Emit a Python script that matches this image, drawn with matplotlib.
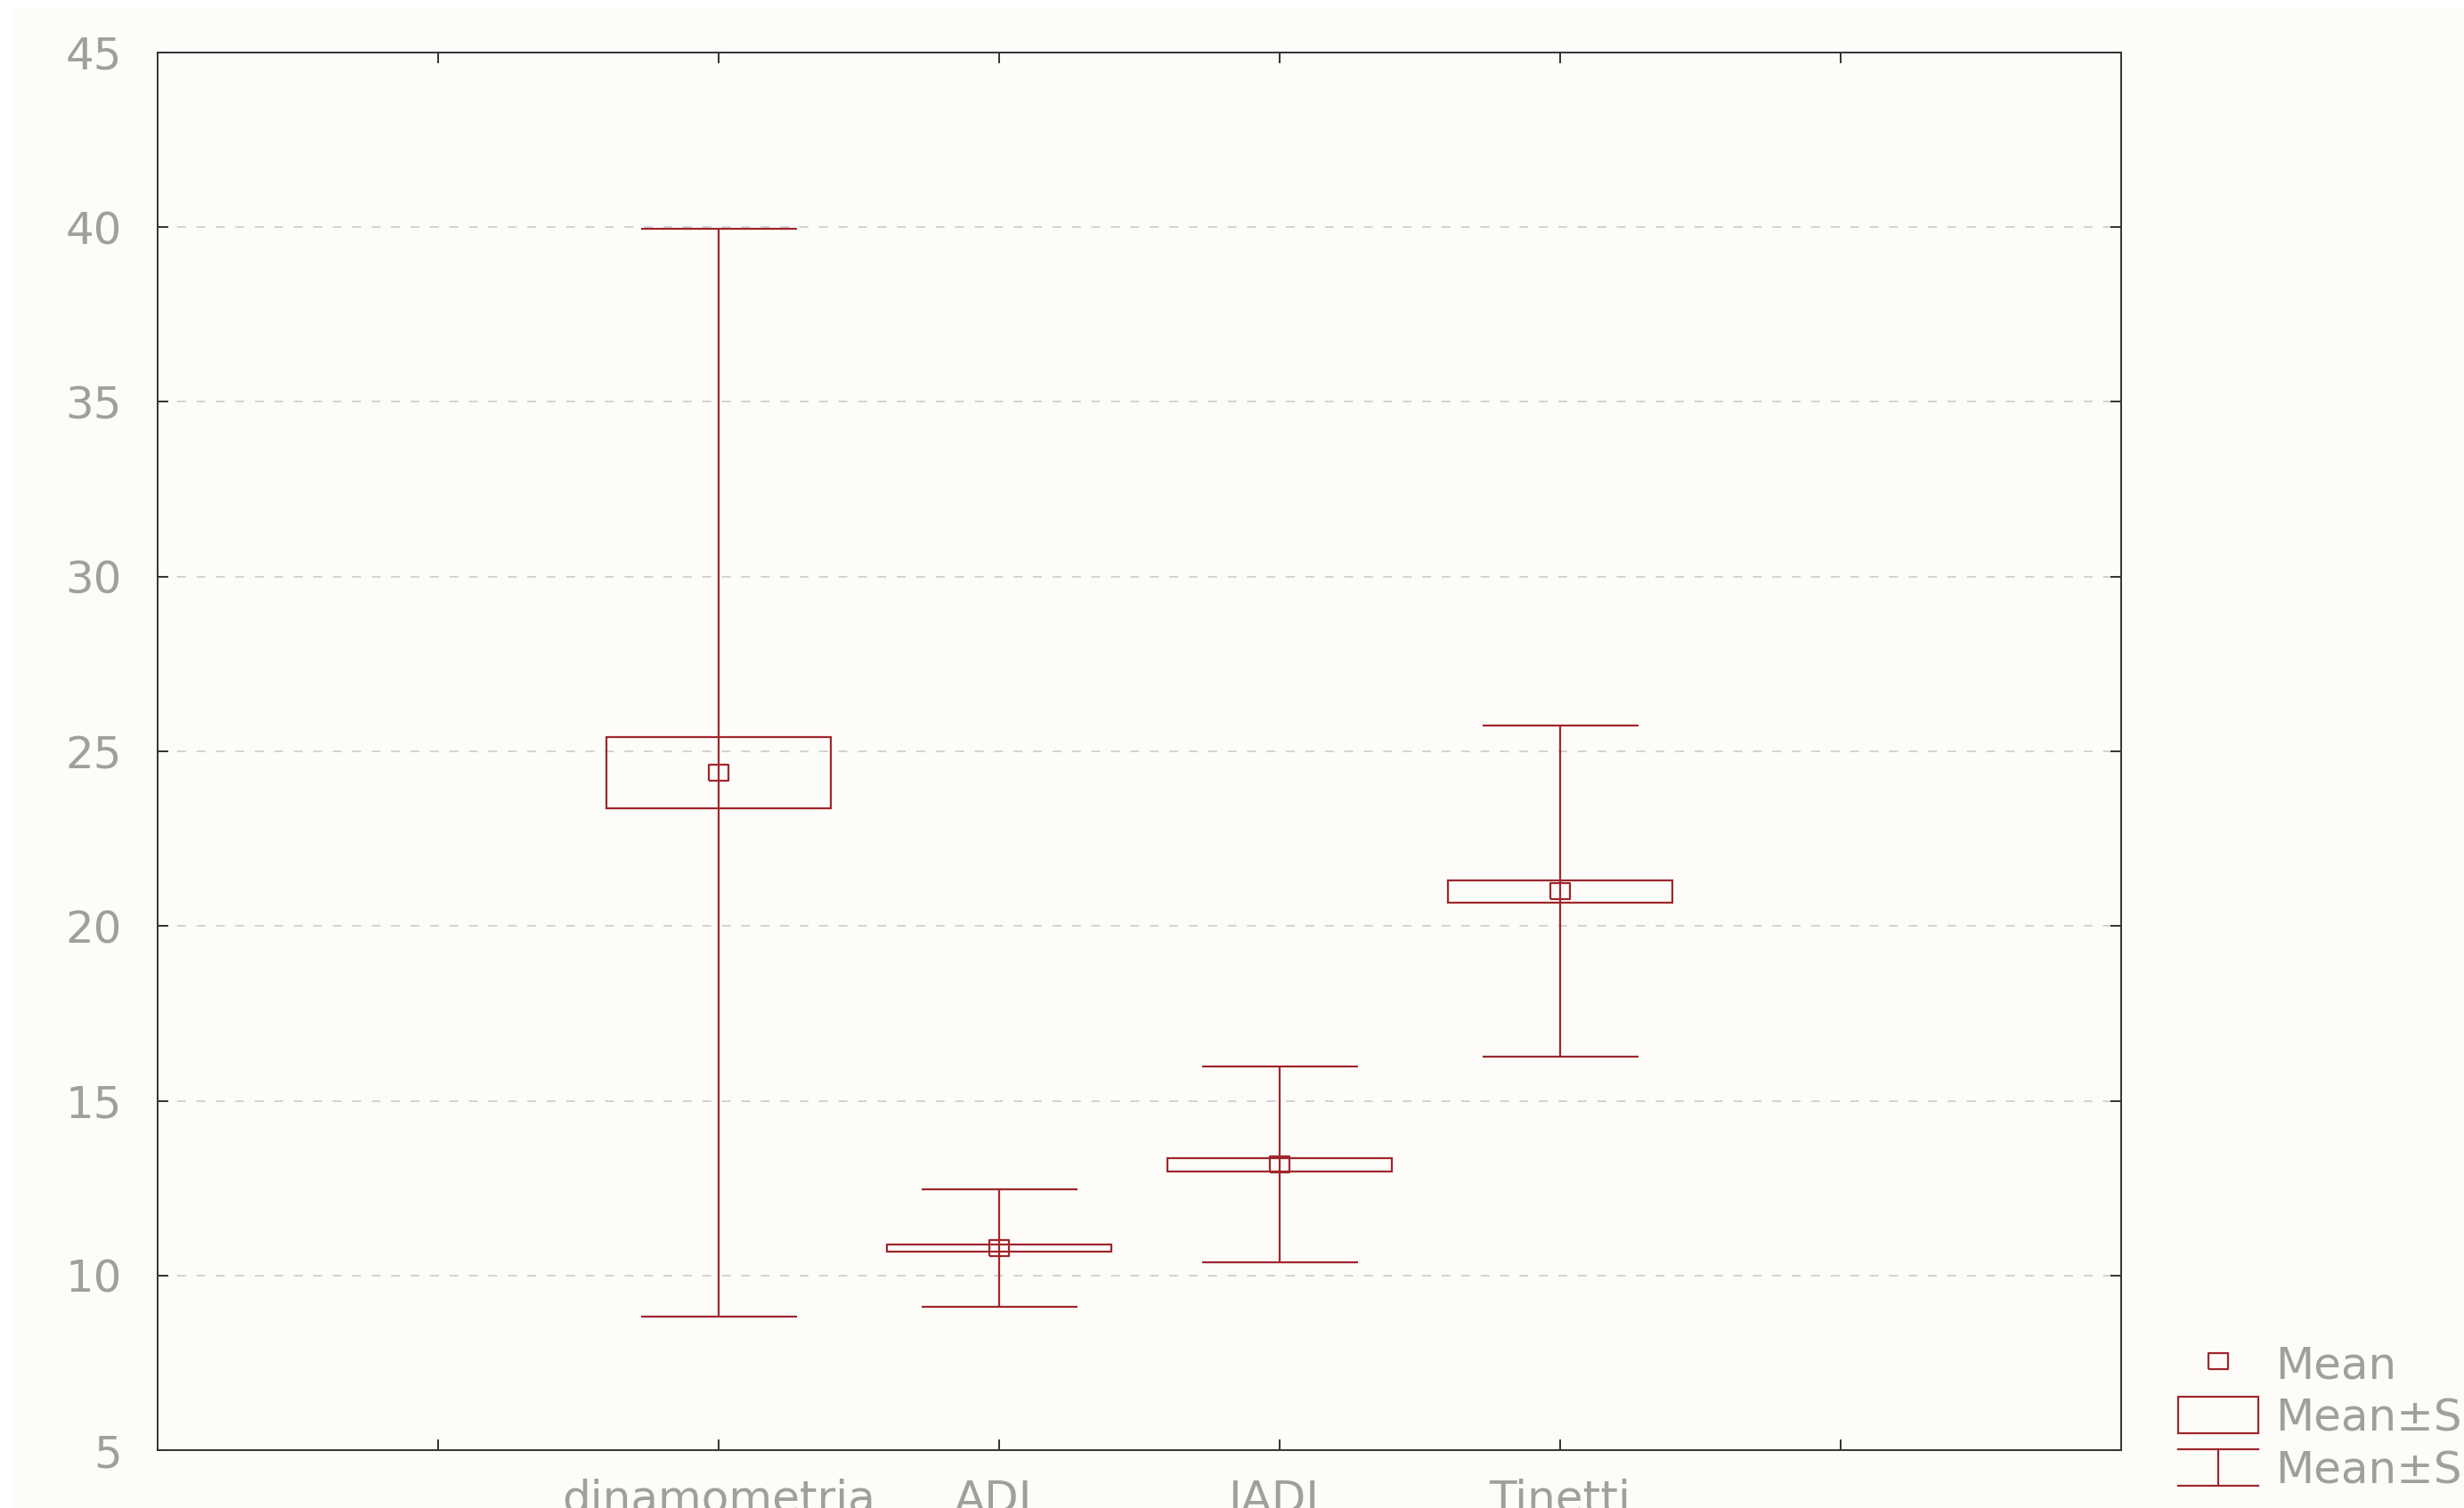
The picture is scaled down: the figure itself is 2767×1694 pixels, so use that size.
import matplotlib
matplotlib.use("Agg")
import matplotlib.pyplot as plt
from matplotlib.patches import Rectangle, Patch
from matplotlib.lines import Line2D
from matplotlib.legend_handler import HandlerBase

# ---- data ----
categories = ["dinamometria", "ADL", "IADL", "Tinetti"]
means = [24.39, 10.78, 13.17, 20.99]
se = [1.03, 0.11, 0.19, 0.32]
sd = [15.56, 1.69, 2.80, 4.74]
yticks = [5, 10, 15, 20, 25, 30, 35, 40, 45]
legend_labels = ["Mean", "Mean±SE", "Mean±SD"]

RED = "#a0262d"
TXT = "#a09f9a"
BG = "#fdfcf9"
FS = 36

plt.rcParams["font.family"] = ["DejaVu Sans"]

W, H = 2767, 1694
fig = plt.figure(figsize=(W / 100, H / 100), dpi=100, facecolor="white")
fig.patches.append(Rectangle((15 / W, 0), 1, 1 - 9 / H, transform=fig.transFigure,
                             facecolor=BG, edgecolor="none", zorder=-10))

ax = fig.add_axes([177 / W, 1 - 1629 / H, (2382 - 177) / W, (1629 - 59) / H])
ax.set_facecolor(BG)

xs = list(range(2, 2 + len(categories)))
rect_marker = [(-1.25, -1), (1.25, -1), (1.25, 1), (-1.25, 1), (-1.25, -1)]

for x, m, s, d in zip(xs, means, se, sd):
    ax.errorbar(x, m, yerr=d, fmt="none", ecolor=RED, elinewidth=1.6,
                capsize=63, capthick=1.6, zorder=3)
    ax.bar(x, 2 * s, bottom=m - s, width=0.8, fill=False, edgecolor=RED,
           linewidth=1.6, zorder=3)
    ax.plot([x], [m], marker=rect_marker, ms=16.5, mfc="none", mec=RED,
            mew=1.6, ls="none", zorder=4)

ax.set_xlim(0, 7)
ax.set_ylim(5, 45)
ax.set_xticks([1, 2, 3, 4, 5, 6])
ax.set_xticklabels([""] + categories + [""])
ax.set_yticks(yticks)
ax.set_yticklabels([str(v) for v in yticks])

ax.tick_params(axis="both", which="both", direction="in", length=8.6, width=1.4,
               color="#333333", top=True, right=True, labelsize=FS, labelcolor=TXT)
ax.tick_params(axis="y", pad=29)
ax.tick_params(axis="x", pad=23)
for sp in ax.spines.values():
    sp.set_color("#333333")
    sp.set_linewidth(1.4)

for v in yticks[1:-1]:
    ax.axhline(v, color="#cfcfcf", lw=1.3, ls=(0, (5.5, 6.6)), zorder=1)


class WhiskerHandler(HandlerBase):
    def create_artists(self, legend, orig_handle, xdescent, ydescent, width,
                       height, fontsize, trans):
        x0 = -xdescent
        x1 = x0 + width
        xm = (x0 + x1) / 2
        y0 = -ydescent
        y1 = y0 + height
        kw = dict(color=RED, lw=1.6, transform=trans)
        return [Line2D([x0, x1], [y0, y0], **kw),
                Line2D([x0, x1], [y1, y1], **kw),
                Line2D([xm, xm], [y0, y1], **kw)]


class WhiskerProxy:
    pass


h_mean = Line2D([], [], marker=rect_marker, ms=16.5, mfc="none", mec=RED,
                mew=1.6, ls="none")
h_box = Patch(facecolor="none", edgecolor=RED, linewidth=1.6)
h_wh = WhiskerProxy()

leg = fig.legend([h_mean, h_box, h_wh], legend_labels,
                 handler_map={WhiskerProxy: WhiskerHandler()},
                 loc="upper left", bbox_to_anchor=(2446 / W, 1 - 1510 / H),
                 bbox_transform=fig.transFigure, frameon=False,
                 fontsize=FS, borderpad=0, borderaxespad=0,
                 handlelength=1.8, handleheight=0.88,
                 handletextpad=0.38, labelspacing=0.22)
for t in leg.get_texts():
    t.set_color(TXT)

fig.savefig("out.png", dpi=100, facecolor=fig.get_facecolor())
